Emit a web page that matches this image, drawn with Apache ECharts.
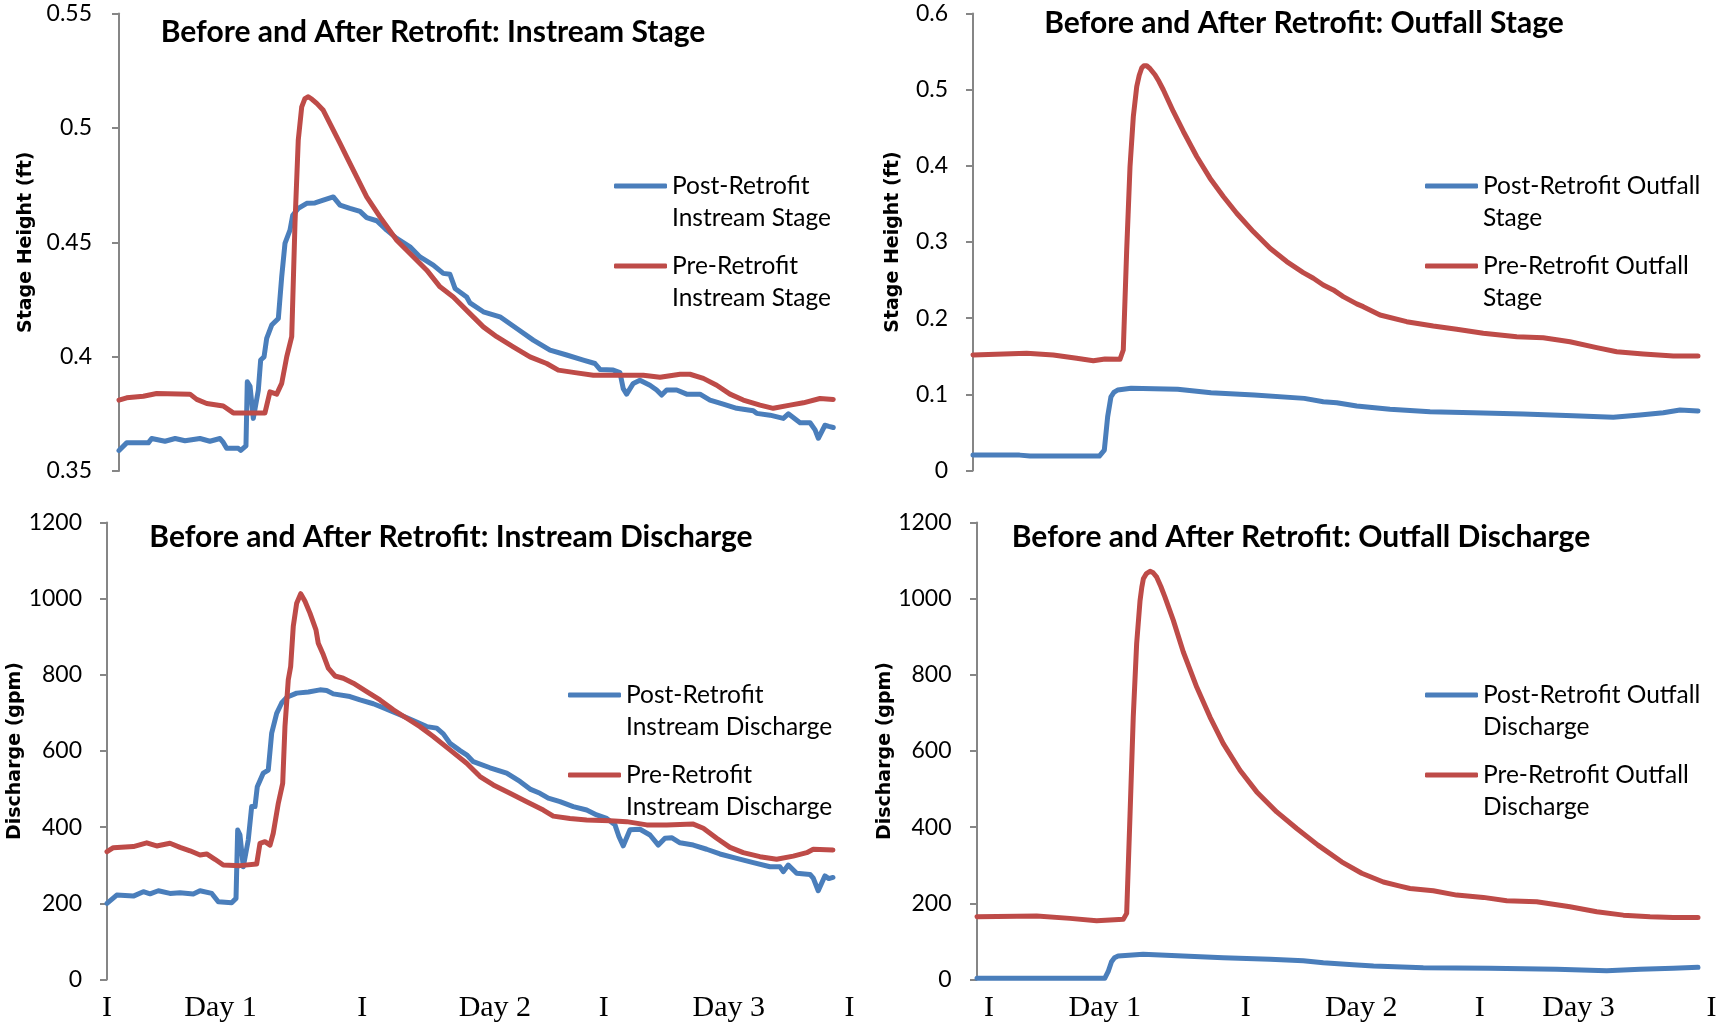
<!DOCTYPE html>
<html>
<head>
<meta charset="utf-8">
<script src="https://cdn.jsdelivr.net/npm/echarts@6/dist/echarts.min.js"></script>
<style>
  html, body { margin: 0; padding: 0; background: #ffffff; }
  #chart { width: 1723px; height: 1024px; }
</style>
</head>
<body>
<div id="chart"></div>
<script>
// Storm event record, time in hours from the start of the record.
// Each series is a list of [hour, value] pairs.

// Instream stage (ft)
const instreamStagePost = [[0,0.359],[0.75,0.3623],[2.87,0.3623],[3.2,0.3642],[4.5,0.363],[5.5,0.3642],[6.46,0.3632],[7.93,0.3642],[8.9,0.363],[9.89,0.3642],[10.21,0.3625],[10.54,0.3599],[11.68,0.3599],[11.92,0.359],[12.43,0.361],[12.56,0.389],[12.83,0.387],[13.15,0.373],[13.64,0.3853],[13.87,0.3985],[14.2,0.3999],[14.46,0.408],[14.95,0.4138],[15.6,0.4167],[15.93,0.4349],[16.25,0.4495],[16.74,0.4553],[17.01,0.4618],[17.55,0.4648],[18.38,0.467],[19.19,0.4672],[20.0,0.4684],[20.98,0.4698],[21.64,0.4662],[22.61,0.4648],[23.6,0.4635],[24.25,0.4608],[25.23,0.4594],[26.21,0.4553],[27.19,0.4517],[28.49,0.448],[29.47,0.4436],[30.77,0.44],[31.75,0.4364],[32.4,0.436],[32.9,0.4298],[34.04,0.4261],[34.36,0.4235],[35.67,0.4196],[37.3,0.4174],[38.94,0.4123],[40.56,0.4072],[42.2,0.4028],[43.83,0.4007],[45.46,0.3985],[46.6,0.397],[47.09,0.3944],[48.39,0.3941],[49.05,0.393],[49.37,0.386],[49.7,0.3836],[50.35,0.3883],[51.0,0.3897],[51.98,0.3875],[52.64,0.3854],[53.13,0.3832],[53.62,0.3854],[54.6,0.3854],[55.58,0.3836],[56.88,0.3836],[57.86,0.381],[59.16,0.3792],[60.48,0.3774],[62.1,0.3763],[62.43,0.3752],[63.74,0.3744],[65.04,0.373],[65.53,0.375],[66.68,0.3711],[67.66,0.3711],[68.15,0.368],[68.47,0.3643],[69.12,0.37],[69.5,0.3695],[69.93,0.369]];
const instreamStagePre = [[0,0.381],[0.75,0.382],[2.38,0.3827],[3.69,0.3839],[6.95,0.3836],[7.61,0.3813],[8.59,0.3795],[10.21,0.3784],[11.19,0.3754],[14.29,0.3754],[14.78,0.3846],[15.44,0.3836],[15.93,0.3883],[16.42,0.3999],[16.91,0.4087],[17.23,0.4582],[17.55,0.4946],[17.89,0.5092],[18.2,0.5128],[18.53,0.5136],[18.9,0.5125],[19.36,0.5107],[20.0,0.5077],[20.82,0.5004],[21.64,0.4932],[22.29,0.4873],[23.27,0.4786],[24.25,0.4698],[25.55,0.4611],[27.19,0.4509],[28.49,0.4451],[30.13,0.4378],[31.43,0.4305],[32.73,0.4261],[34.36,0.4188],[35.67,0.413],[36.98,0.4087],[38.6,0.4043],[40.24,0.3999],[41.87,0.397],[43.01,0.3941],[44.64,0.393],[46.44,0.3919],[51.33,0.3919],[52.97,0.391],[54.93,0.3923],[55.9,0.3923],[57.21,0.3905],[58.52,0.3875],[59.82,0.3836],[61.12,0.381],[62.76,0.3788],[64.06,0.3774],[65.7,0.3788],[67.0,0.3798],[68.63,0.3817],[69.93,0.3813]];

// Outfall stage (ft)
const outfallStagePost = [[0,0.0202],[4.5,0.0202],[5.5,0.0189],[12.2,0.0189],[12.68,0.0268],[13.0,0.0706],[13.32,0.0968],[13.6,0.1025],[13.97,0.1057],[15.26,0.1079],[19.76,0.1066],[22.98,0.1021],[27.16,0.0991],[31.99,0.0947],[33.82,0.0903],[35.12,0.089],[37.05,0.0846],[40.26,0.0803],[44.13,0.0772],[48.3,0.0759],[53.13,0.0741],[57.96,0.0719],[61.82,0.0698],[64.4,0.0728],[66.65,0.0759],[68.26,0.0794],[70,0.0781]];
const outfallStagePre = [[0,0.1517],[5.18,0.1539],[7.75,0.1517],[10.01,0.1473],[11.62,0.1442],[12.74,0.1465],[14.19,0.146],[14.51,0.1582],[14.84,0.2896],[15.16,0.399],[15.48,0.4648],[15.81,0.5042],[16.05,0.519],[16.29,0.5284],[16.5,0.5315],[16.77,0.5314],[17.1,0.5275],[17.57,0.5196],[17.95,0.511],[18.37,0.4999],[19.34,0.4714],[20.31,0.4451],[21.6,0.4122],[22.88,0.3838],[24.17,0.3597],[25.46,0.3378],[27.06,0.3137],[28.68,0.2918],[30.29,0.2743],[31.89,0.2598],[32.86,0.2524],[33.82,0.2436],[34.79,0.2371],[35.75,0.2283],[37.05,0.2187],[37.68,0.2151],[39.3,0.2042],[41.87,0.1954],[44.44,0.1897],[46.7,0.1854],[49.27,0.1801],[52.5,0.1757],[55.06,0.1744],[57.64,0.1691],[60.22,0.1613],[62.15,0.156],[64.72,0.153],[67.62,0.1503],[70,0.1503]];

// Instream discharge (gpm)
const instreamFlowPost = [[0,200],[0.94,221.8],[2.54,219],[3.5,230.5],[4.15,225],[4.95,233],[6.07,226],[7.04,228],[8.32,224.4],[8.97,233],[10.1,226],[10.73,204],[12.02,201.6],[12.44,213],[12.6,392.6],[12.82,380],[13.14,296],[13.62,366],[13.95,454],[14.27,454],[14.49,506],[15.07,542],[15.55,550],[15.88,647],[16.36,699],[16.84,726],[17.33,741],[18.29,752],[19.42,755],[20.54,760.6],[21.18,759],[21.82,750],[23.43,743],[24.4,734],[25.68,724],[26.97,710],[28.25,695],[29.53,680],[30.83,664],[31.79,660],[32.43,645],[33.07,620.5],[34.04,601],[34.68,590],[35.32,572],[36.93,556],[38.54,542],[39.82,520],[40.79,500],[41.75,489],[42.55,476],[43.68,467],[44.96,454],[46.25,445],[47.22,432],[48.18,423],[48.98,406],[49.37,375],[49.78,351],[50.43,393],[51.39,394.5],[52.36,379.5],[53.16,353],[53.8,371],[54.48,372],[55.25,359],[56.53,353],[57.82,342],[59.1,329.6],[60.72,318],[62.32,307],[63.93,296],[64.89,296],[65.21,283],[65.69,300.6],[66.5,279],[67.79,276],[68.1,266],[68.58,233],[69.22,272],[69.6,265],[70,268]];
const instreamFlowPre = [[0,335.6],[0.61,346],[2.54,349],[3.83,359],[4.79,350.6],[6.07,357.7],[7.04,347],[8.0,338],[8.97,327],[9.61,329.6],[10.41,315.6],[11.21,300.6],[12.82,299],[14.43,303],[14.75,357.7],[15.23,362],[15.72,353],[16.03,384],[16.52,463],[16.94,515],[17.16,664],[17.48,787],[17.71,822],[17.96,927],[18.29,988],[18.68,1013],[19.09,993],[19.57,962],[20.15,918],[20.37,883],[20.86,852.6],[21.34,817.6],[21.98,797],[22.78,791],[23.75,778],[25.04,756],[26.32,734],[27.61,708],[28.9,686],[30.18,664],[31.46,638],[33.07,603],[34.68,568],[35.97,533],[37.25,511],[38.86,489],[40.47,467],[42.07,445],[43.03,429],[44.64,423],[46.25,419],[48.5,417],[50.11,414.5],[52.04,406],[53.97,406],[56.53,408],[57.5,397],[58.79,371],[60.07,347],[61.35,333],[62.96,322.5],[64.57,315.6],[66.17,324],[67.47,333],[68.1,342],[70,340]];

// Outfall discharge (gpm)
const outfallFlowPost = [[0,3],[12.4,3],[12.73,20.5],[13.06,46.7],[13.35,57],[13.7,61.6],[16.13,66],[20.0,61.6],[23.91,57.2],[28.45,53],[31.68,49.3],[33.62,44],[36.5,39],[38.5,35.4],[43.33,31],[49.8,29.4],[56.28,26.8],[61.14,23],[64.37,26.8],[67.6,29.4],[70,32]];
const outfallFlowPre = [[0,164.7],[5.8,166.6],[9.03,160.5],[11.62,154.2],[14.2,157.9],[14.53,173.6],[14.85,427],[15.17,689],[15.5,882],[15.83,995],[16.0,1030],[16.15,1052],[16.45,1066],[16.8,1072],[17.1,1068],[17.45,1056.5],[17.85,1032],[18.25,1004],[19.06,943],[20.03,860],[21.33,768],[22.62,689],[23.91,619.5],[25.53,549.5],[27.16,492.6],[29.1,440],[31.04,396.6],[33.1,352.8],[35.4,309],[37.35,279],[39.45,256],[41.07,245],[42.04,239],[44.3,233],[46.57,221.6],[49.16,215.6],[51.43,206.7],[54.34,204],[57.57,191],[60.17,178],[62.75,169],[65.34,164.7],[67.6,163],[70,163]];

// Time-axis labels: day markers and day names
const dayLabels = ['I', 'Day 1', 'I', 'Day 2', 'I', 'Day 3', 'I'];
const dayLabelHoursInstream = [0, 10.94, 24.6, 37.4, 47.9, 59.95, 71.6];
const dayLabelHoursOutfall = [1.16, 12.4, 26.1, 37.3, 48.8, 58.4, 71.3];

// Text
const titles = [
  'Before and After Retrofit: Instream Stage',
  'Before and After Retrofit: Outfall Stage',
  'Before and After Retrofit: Instream Discharge',
  'Before and After Retrofit: Outfall Discharge'
];
const yAxisNames = ['Stage Height (ft)', 'Stage Height (ft)', 'Discharge (gpm)', 'Discharge (gpm)'];
const seriesNames = [
  ['Post-Retrofit\nInstream Stage', 'Pre-Retrofit\nInstream Stage'],
  ['Post-Retrofit Outfall\nStage', 'Pre-Retrofit Outfall\nStage'],
  ['Post-Retrofit\nInstream Discharge', 'Pre-Retrofit\nInstream Discharge'],
  ['Post-Retrofit Outfall\nDischarge', 'Pre-Retrofit Outfall\nDischarge']
];

const COLOR_POST = '#4A7EBB';
const COLOR_PRE = '#BE4B48';
const AXIS_GRAY = '#868686';
const SANS = 'Lato, "Open Sans", sans-serif';

// Layout of the four panels
const panels = [
  { post: instreamStagePost, pre: instreamStagePre, yMin: 0.35, yMax: 0.55, yStep: 0.05,
    grid: { left: 119, top: 13.5, width: 735.4, height: 457.5 }, nameGap: 83, labelMargin: 27,
    titleX: 433, titleTop: 17, legendX: 614, legendY: [186, 266], xLabels: null },
  { post: outfallStagePost, pre: outfallStagePre, yMin: 0, yMax: 0.6, yStep: 0.1,
    grid: { left: 973, top: 13.5, width: 745.7, height: 457 }, nameGap: 70, labelMargin: 25,
    titleX: 1304, titleTop: 8.5, legendX: 1425, legendY: [186, 266], xLabels: null },
  { post: instreamFlowPost, pre: instreamFlowPre, yMin: 0, yMax: 1200, yStep: 200,
    grid: { left: 107, top: 522.5, width: 746.7, height: 457 }, nameGap: 66, labelMargin: 25,
    titleX: 451, titleTop: 522, legendX: 568, legendY: [695, 775], xLabels: dayLabelHoursInstream },
  { post: outfallFlowPost, pre: outfallFlowPre, yMin: 0, yMax: 1200, yStep: 200,
    grid: { left: 977, top: 522.5, width: 741.6, height: 457 }, nameGap: 74, labelMargin: 25.5,
    titleX: 1301, titleTop: 522, legendX: 1425, legendY: [695, 775], xLabels: dayLabelHoursOutfall }
];

const option = {
  animation: false,
  backgroundColor: '#ffffff',
  title: [], grid: [], xAxis: [], yAxis: [], series: [], legend: []
};

panels.forEach((p, i) => {
  option.title.push({
    text: titles[i], left: p.titleX, top: p.titleTop, textAlign: 'center', padding: 0,
    textStyle: { fontFamily: SANS, fontWeight: 'bold', fontSize: 30, color: '#000' }
  });
  option.grid.push(Object.assign({ containLabel: false }, p.grid));

  const hasLabels = Array.isArray(p.xLabels);
  const positions = p.xLabels || [];
  option.xAxis.push({
    type: 'value', gridIndex: i, min: 0, max: 72,
    show: hasLabels,
    axisLine: { show: false }, axisTick: { show: false }, splitLine: { show: false },
    axisLabel: {
      show: hasLabels,
      customValues: positions,
      margin: 14,
      fontFamily: '"Liberation Serif", "Times New Roman", serif',
      fontSize: 30, color: '#000',
      formatter: (v) => {
        const k = positions.findIndex(h => Math.abs(h - v) < 1e-6);
        return k >= 0 ? dayLabels[k] : '';
      }
    }
  });
  option.yAxis.push({
    type: 'value', gridIndex: i, min: p.yMin, max: p.yMax, interval: p.yStep,
    name: yAxisNames[i], nameLocation: 'middle', nameRotate: 90, nameGap: p.nameGap,
    nameTextStyle: { fontFamily: '"DejaVu Sans", Verdana, sans-serif', fontWeight: 'bold', fontSize: 19, color: '#000' },
    axisLine: { show: true, lineStyle: { color: AXIS_GRAY, width: 2 } },
    axisTick: { show: true, length: 7, lineStyle: { color: AXIS_GRAY, width: 2 } },
    axisLabel: {
      margin: p.labelMargin, fontFamily: SANS, fontSize: 23, color: '#000',
      formatter: (v) => String(+v.toFixed(2))
    },
    splitLine: { show: false }
  });

  [[p.post, COLOR_POST, seriesNames[i][0], p.legendY[0]],
   [p.pre, COLOR_PRE, seriesNames[i][1], p.legendY[1]]].forEach(([data, color, name, ly]) => {
    option.series.push({
      type: 'line', name, data, xAxisIndex: i, yAxisIndex: i,
      showSymbol: false, symbol: 'none', color,
      lineStyle: { width: 5, color, cap: 'round', join: 'round' },
      z: color === COLOR_PRE ? 3 : 2
    });
    // A leading blank line keeps the icon level with the first text line.
    option.legend.push({
      data: [name], left: p.legendX, top: ly - 48, padding: 0, orient: 'vertical',
      icon: 'roundRect', itemWidth: 53, itemHeight: 5, selectedMode: false,
      formatter: (n) => '\n' + n,
      textStyle: { fontFamily: SANS, fontSize: 24.5, color: '#000', lineHeight: 32 }
    });
  });
});

const chart = echarts.init(document.getElementById('chart'), null, { renderer: 'canvas', width: 1723, height: 1024 });
chart.setOption(option);
</script>
</body>
</html>
